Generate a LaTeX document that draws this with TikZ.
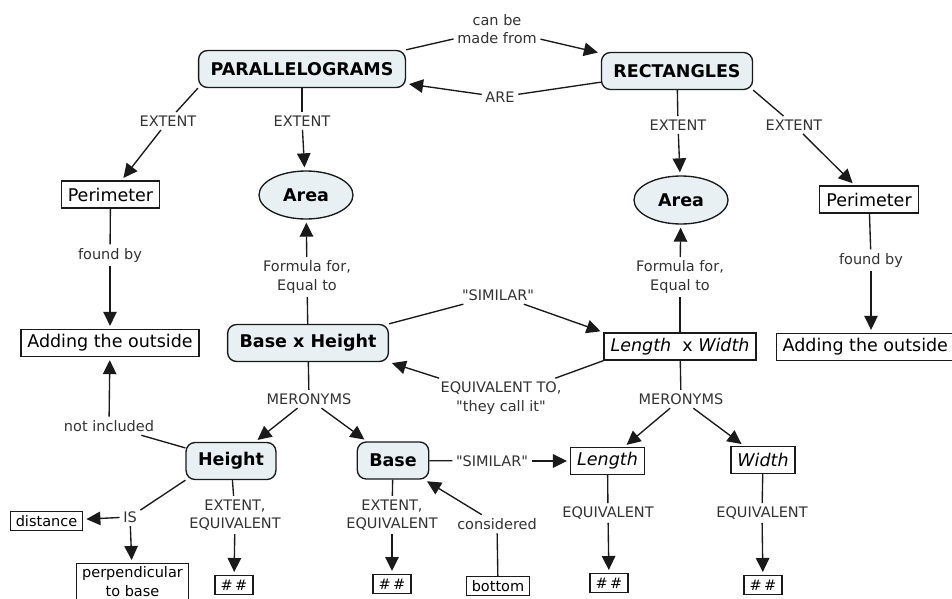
\documentclass[tikz,border=0pt]{standalone}
\usepackage{fontspec}
\setmainfont{DejaVu Sans}
\usepackage{tikz}
\usetikzlibrary{arrows.meta,shapes.geometric}
\definecolor{MapFill}{HTML}{E8F0F3}
\definecolor{MapLine}{HTML}{1A1A1A}
\definecolor{MapText}{HTML}{333333}
\newcommand{\conceptsize}{\fontsize{17.5}{20}\selectfont}
\newcommand{\linksize}{\fontsize{14.5}{18.5}\selectfont}
\newcommand{\dq}{\textquotedbl}

\begin{document}
\begin{tikzpicture}[x=1pt, y=-1pt, >={Triangle[length=14pt,width=13.5pt]}, line width=1.35pt,
  concept/.style={rounded corners=9pt, draw=MapLine, fill=MapFill, font=\conceptsize\bfseries, inner xsep=12pt, minimum height=37pt},
  oval/.style={ellipse, draw=MapLine, fill=MapFill, font=\conceptsize\bfseries, minimum width=94pt, minimum height=48pt, inner sep=0pt},
  term/.style={draw=MapLine, fill=white, font=\conceptsize, inner xsep=6.5pt, inner ysep=3pt, minimum height=27pt},
  smallterm/.style={term, font=\linksize, inner xsep=5.5pt, minimum height=19pt, align=center},
  lab/.style={font=\linksize, text=MapText, align=center, inner sep=3pt},
  link/.style={draw=MapLine},
  linkto/.style={->, draw=MapLine, shorten >=3pt}]
\useasboundingbox (0,0) rectangle (952,599);
\clip (0,0) rectangle (952,599);
\fill[white] (0,0) rectangle (952,599);
% top concepts
\node[concept] (par) at (302,69) {PARALLELOGRAMS};
\node[concept] (rect) at (677,71) {RECTANGLES};
\node[lab] (canbe) at (497,29) {can be\\made from};
\node[lab] (are) at (500,97) {ARE};
\draw[link] (par.north east) -- (canbe);
\draw[linkto] (canbe) -- (rect);
\draw[link] (rect) -- (are);
\draw[linkto] (are) -- (par);
% extents
\node[lab] (extL) at (168,121) {EXTENT};
\node[lab] (extM) at (302,121) {EXTENT};
\node[lab] (extR) at (678,125) {EXTENT};
\node[lab] (extRR) at (794,125) {EXTENT};
\node[term] (perimL) at (110.5,194.5) {Perimeter};
\node[oval] (areaL) at (306,195) {Area};
\node[oval] (areaR) at (681,200) {Area};
\node[term] (perimR) at (869,199.5) {Perimeter};
\draw[link] (par.south west) -- (extL);
\draw[linkto] (extL) -- (perimL);
\draw[link] (par) -- (extM);
\draw[linkto] (extM) -- (areaL);
\draw[link] (rect) -- (extR);
\draw[linkto] (extR) -- (areaR);
\draw[link] (rect.south east) -- (extRR);
\draw[linkto] (extRR) -- (perimR);
% perimeter
\node[lab] (foundL) at (110,255) {found by};
\node[lab] (foundR) at (871,260) {found by};
\node[term] (addL) at (110,343) {Adding the outside};
\node[term, anchor=west, inner xsep=6pt] (addR) at (776,347) {Adding the outside};
\draw[link] (perimL) -- (foundL);
\draw[linkto] (foundL) -- (addL);
\draw[link] (perimR) -- (foundR);
\draw[linkto] (foundR) -- (addR.north -| foundR);
% formulas
\node[concept] (bxh) at (308,343) {Base x Height};
\node[term] (lw) at (680,346.5) {\itshape Length\ \ \upshape x \itshape Width};
\node[lab] (formL) at (307,277) {Formula for,\\Equal to};
\node[lab] (formR) at (680,277) {Formula for,\\Equal to};
\draw[link] (bxh) -- (formL);
\draw[linkto] (formL) -- (areaL);
\draw[link] (lw) -- (formR);
\draw[linkto] (formR) -- (areaR);
\node[lab] (simU) at (498,295) {\dq SIMILAR\dq};
\node[lab] (eqto) at (501,398) {EQUIVALENT TO,\\\dq they call it\dq};
\draw[link] (bxh.north east) -- (simU);
\draw[linkto] (simU) -- (lw.north west);
\draw[link] (lw.south west) -- (eqto);
\draw[linkto] (eqto) -- (bxh.south east);
% parts
\node[lab] (merL) at (309,399) {MERONYMS};
\node[lab] (merR) at (681,399) {MERONYMS};
\node[concept] (hgt) at (231,461) {Height};
\node[concept] (base) at (393,460.5) {Base};
\node[term, font=\conceptsize\itshape] (lenB) at (607.5,461) {Length};
\node[term, font=\conceptsize\itshape] (widB) at (763,460) {Width};
\draw[link] (bxh) -- (merL);
\draw[linkto] (merL) -- (hgt);
\draw[linkto] (merL) -- (base);
\draw[link] (lw) -- (merR);
\draw[linkto] (merR) -- (lenB);
\draw[linkto] (merR) -- (widB);
\node[lab] (nincl) at (109,426) {not included};
\draw[link] (hgt) -- (nincl);
\draw[linkto] (nincl) -- (addL);
\node[lab] (simM) at (492,461) {\dq SIMILAR\dq};
\draw[link] (base) -- (simM);
\draw[linkto] (simM) -- (lenB);
% bottom row
\node[lab] (isl) at (130,517) {IS};
\node[smallterm] (dist) at (46.5,521) {distance};
\node[smallterm, anchor=north] (perp) at (132.5,563) {perpendicular\\to base};
\draw[link] (hgt.south west) -- (isl);
\draw[linkto] (isl) -- (dist);
\draw[linkto] (isl) -- (perp);
\node[lab] (eqH) at (235,515) {EXTENT,\\EQUIVALENT};
\node[lab] (eqB) at (392,515) {EXTENT,\\EQUIVALENT};
\node[lab] (cons) at (497,524) {considered};
\node[lab] (eqL) at (608,513) {EQUIVALENT};
\node[lab] (eqW) at (762,513) {EQUIVALENT};
\node[smallterm, anchor=north] (hashH) at (234,575) {\#\,\#};
\node[smallterm, anchor=north] (hashB) at (392,574) {\#\,\#};
\node[smallterm, anchor=north] (botm) at (498,576) {bottom};
\node[smallterm, anchor=north] (hashL) at (609,573) {\#\,\#};
\node[smallterm, anchor=north] (hashW) at (763,575) {\#\,\#};
\draw[link] (hgt) -- (eqH);
\draw[linkto] (eqH) -- (hashH);
\draw[link] (base) -- (eqB);
\draw[linkto] (eqB) -- (hashB);
\draw[link] (botm) -- (cons);
\draw[linkto] (cons) -- (base);
\draw[link] (lenB) -- (eqL);
\draw[linkto] (eqL) -- (hashL);
\draw[link] (widB) -- (eqW);
\draw[linkto] (eqW) -- (hashW);
\end{tikzpicture}
\end{document}
